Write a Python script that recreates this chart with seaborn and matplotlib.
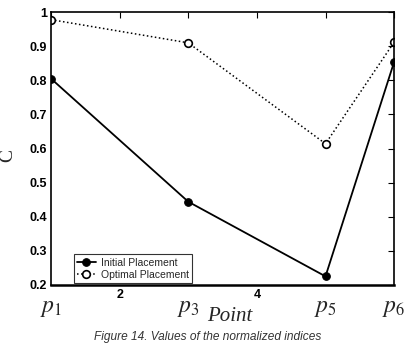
import pandas as pd
import numpy as np
import seaborn as sns
import matplotlib.pyplot as plt

# values
points = [1, 3, 5, 6]
point_labels = [r'$p_{\mathit{1}}$', r'$p_{\mathit{3}}$', r'$p_{\mathit{5}}$', r'$p_{\mathit{6}}$']
initial = [0.805, 0.444, 0.225, 0.854]
optimal = [0.978, 0.910, 0.614, 0.912]
xtick_labels = ['', '2', '', '4', '', '']
yticks = [0.2, 0.3, 0.4, 0.5, 0.6, 0.7, 0.8, 0.9, 1.0]
ytick_labels = ['0.2', '0.3', '0.4', '0.5', '0.6', '0.7', '0.8', '0.9', '1']

df = pd.DataFrame({'Point': points, 'Initial': initial, 'Optimal': optimal})

sns.set_style('white')
plt.rcParams['font.family'] = ['Liberation Sans', 'DejaVu Sans']
plt.rcParams['mathtext.fontset'] = 'stix'

fig = plt.figure(figsize=(4.08, 3.47), dpi=100)
ax = fig.add_axes([0.125, 0.179, 0.841, 0.786])

sns.lineplot(data=df, x='Point', y='Initial', ax=ax, color='black', lw=1.3,
             marker='o', markersize=5.5, markerfacecolor='black',
             markeredgecolor='black', label='Initial Placement')
sns.lineplot(data=df, x='Point', y='Optimal', ax=ax, color='black', lw=1.1,
             linestyle=':', marker='o', markersize=5.5, markerfacecolor='white',
             markeredgecolor='black', markeredgewidth=1.2, label='Optimal Placement')

ax.set_xlim(1, 6)
ax.set_ylim(0.2, 1.0)
ax.set_xticks(range(1, 7))
ax.set_xticklabels(xtick_labels, fontweight='bold')
ax.set_yticks(yticks)
ax.set_yticklabels(ytick_labels, fontweight='bold')
ax.tick_params(direction='in', length=4, width=0.8, top=True, right=True,
               labelsize=9, colors='black', pad=3)
for s in ax.spines.values():
    s.set_visible(True)
    s.set_color('black')
    s.set_linewidth(1.2)
ax.spines['bottom'].set_linewidth(1.8)

ax.set_xlabel('')
ax.set_ylabel('C', family='Liberation Serif', fontsize=14, va='center')
ax.yaxis.set_label_coords(-0.125, 0.476)

# p labels under the x axis
for xp, lab in zip(points, point_labels):
    ax.text(xp, -0.085, lab, transform=ax.get_xaxis_transform(), ha='center',
            va='center', fontsize=17)
ax.text(3.61, -0.115, 'Point', transform=ax.get_xaxis_transform(), ha='center',
        va='center', fontsize=15, family='Liberation Serif', style='italic')

leg = ax.legend(loc='lower left', bbox_to_anchor=(0.06, 0.0), fontsize=7.5,
                frameon=True, fancybox=False, handlelength=1.8,
                handletextpad=0.5, borderpad=0.3, labelspacing=0.2,
                borderaxespad=0.2)
leg.get_frame().set_edgecolor('black')
leg.get_frame().set_linewidth(0.8)

fig.text(0.51, 0.03, 'Figure 14. Values of the normalized indices', ha='center',
         va='center', fontsize=8.6, style='italic', color='#333333')

fig.savefig('out.png', dpi=100)
